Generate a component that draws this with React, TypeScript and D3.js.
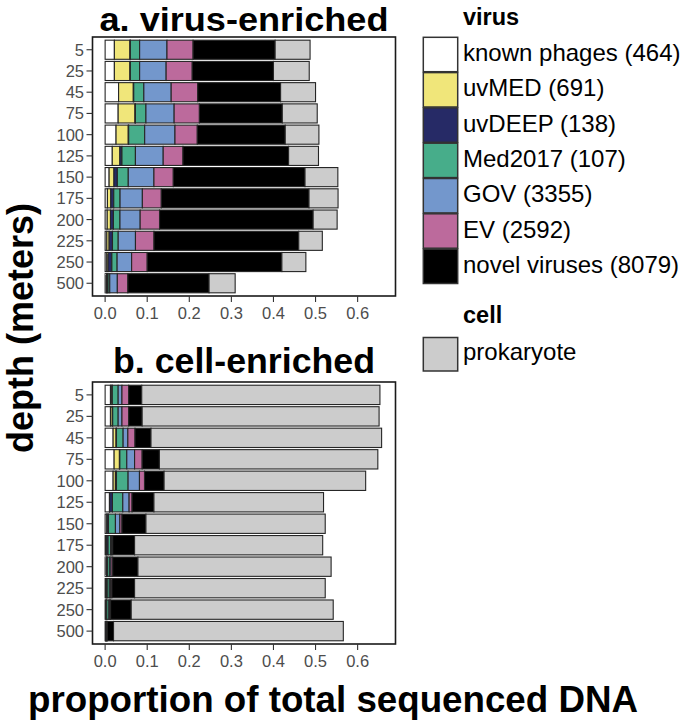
import React from "react";
import * as d3 from "d3";

const depths = ["5", "25", "45", "75", "100", "125", "150", "175", "200", "225", "250", "500"];
const groups = ["known", "uvMED", "uvDEEP", "Med2017", "GOV", "EV", "novel", "prokaryote"];
const groupColors = ["#FFFFFF", "#F0E67A", "#262A66", "#47AD8A", "#7397CC", "#BC6A9C", "#000000", "#CCCCCC"];
const virusLegendLabels = ["known phages (464)", "uvMED (691)", "uvDEEP (138)", "Med2017 (107)", "GOV (3355)", "EV (2592)", "novel viruses (8079)"];
const cellLegendLabels = ["prokaryote"];
const xTicks = [0, 0.1, 0.2, 0.3, 0.4, 0.5, 0.6];

// proportions per depth: [known, uvMED, uvDEEP, Med2017, GOV, EV, novel, prokaryote]
const virusEnriched = [
  [0.022, 0.037, 0.001, 0.022, 0.065, 0.062, 0.195, 0.083],
  [0.022, 0.037, 0.001, 0.022, 0.063, 0.062, 0.193, 0.085],
  [0.032, 0.035, 0.001, 0.024, 0.065, 0.063, 0.197, 0.083],
  [0.031, 0.040, 0.001, 0.025, 0.067, 0.060, 0.197, 0.083],
  [0.026, 0.029, 0.001, 0.038, 0.072, 0.053, 0.209, 0.080],
  [0.017, 0.018, 0.005, 0.032, 0.066, 0.047, 0.251, 0.071],
  [0.0095, 0.0115, 0.008, 0.026, 0.061, 0.046, 0.313, 0.078],
  [0.0055, 0.008, 0.007, 0.015, 0.053, 0.045, 0.351, 0.069],
  [0.005, 0.0077, 0.007, 0.0156, 0.048, 0.046, 0.365, 0.057],
  [0.004, 0.0055, 0.008, 0.0136, 0.041, 0.044, 0.344, 0.056],
  [0.004, 0.003, 0.009, 0.0125, 0.0345, 0.037, 0.32, 0.057],
  [0.003, 0.002, 0.002, 0.004, 0.018, 0.025, 0.193, 0.062],
];

const cellEnriched = [
  [0.0127, 0.0033, 0.001, 0.014, 0.009, 0.016, 0.031, 0.566],
  [0.0127, 0.0043, 0.001, 0.013, 0.009, 0.016, 0.032, 0.563],
  [0.019, 0.007, 0.001, 0.0158, 0.0112, 0.017, 0.038, 0.548],
  [0.0214, 0.0126, 0.001, 0.0165, 0.0185, 0.018, 0.041, 0.519],
  [0.019, 0.0055, 0.0025, 0.0276, 0.027, 0.012, 0.0465, 0.479],
  [0.0103, 0.0005, 0.0066, 0.0246, 0.015, 0.007, 0.052, 0.403],
  [0.004, 0.001, 0.003, 0.0165, 0.0105, 0.005, 0.057, 0.426],
  [0.002, 0.001, 0.004, 0.006, 0.002, 0.003, 0.052, 0.447],
  [0.003, 0.001, 0.002, 0.005, 0.003, 0.004, 0.060, 0.459],
  [0.002, 0.001, 0.002, 0.005, 0.003, 0.003, 0.054, 0.453],
  [0.002, 0.001, 0.001, 0.005, 0.002, 0.002, 0.049, 0.480],
  [0.001, 0.0005, 0.001, 0.001, 0.001, 0.0005, 0.015, 0.546],
];

const FONT = "'Liberation Sans', Arial, Helvetica, sans-serif";
const left = 92.5;
const right = 395.5;

const x = d3.scaleLinear().domain([-0.03, 0.69]).range([left, right]);

function Panel({ data, top, bottom, title, titleY, titleSize, titleLen }: { data: number[][]; top: number; bottom: number; title: string; titleY: number; titleSize: number; titleLen: number }) {
  const y = d3.scaleBand<string>().domain(depths).range([top, bottom]).paddingInner(0.1).paddingOuter(0.15);
  const keys = groups.map((_, i) => String(i));
  const rows = data.map((r, i) => {
    const o: any = { depth: depths[i] };
    r.forEach((v, j) => (o[String(j)] = v));
    return o;
  });
  const series = d3.stack<any>().keys(keys)(rows);
  return (
    <g>
      <text x={(left + right) / 2} y={titleY} textAnchor="middle" fontFamily={FONT} fontWeight="bold" fontSize={titleSize} fill="#000" textLength={titleLen} lengthAdjust="spacingAndGlyphs">
        {title}
      </text>
      {series.map((s, si) => (
        <g key={si}>
          {s.map((d, di) => (
            <rect
              key={di}
              x={x(d[0])}
              y={y(depths[di])!}
              width={Math.max(0, x(d[1]) - x(d[0]))}
              height={y.bandwidth()}
              fill={groupColors[si]}
              stroke="#262626"
              strokeWidth={1.1}
            />
          ))}
        </g>
      ))}
      <rect x={left} y={top} width={right - left} height={bottom - top} fill="none" stroke="#1a1a1a" strokeWidth={1.6} />
      {depths.map((dp) => {
        const cy = y(dp)! + y.bandwidth() / 2;
        return (
          <g key={dp}>
            <line x1={left - 6} x2={left} y1={cy} y2={cy} stroke="#333" strokeWidth={1.1} />
            <text x={left - 8.5} y={cy + 6} textAnchor="end" fontFamily={FONT} fontSize={16.5} fill="#4D4D4D">
              {dp}
            </text>
          </g>
        );
      })}
      {xTicks.map((t) => (
        <g key={t}>
          <line x1={x(t)} x2={x(t)} y1={bottom} y2={bottom + 6} stroke="#333" strokeWidth={1.1} />
          <text x={x(t)} y={bottom + 23} textAnchor="middle" fontFamily={FONT} fontSize={16.5} fill="#4D4D4D">
            {d3.format(".1f")(t)}
          </text>
        </g>
      ))}
    </g>
  );
}

export default function App() {
  const keyX = 423.3;
  const keySize = 34.4;
  const keyStep = 35.3;
  const virusTop = 37.3;
  return (
    <svg width={685} height={722} style={{ position: "absolute", left: 0, top: 0, background: "#fff" }}>
      <rect width={685} height={722} fill="#fff" />
      <Panel data={virusEnriched} top={37} bottom={296} title="a. virus-enriched" titleY={30.5} titleSize={33.5} titleLen={289} />
      <Panel data={cellEnriched} top={382} bottom={644} title="b. cell-enriched" titleY={372.5} titleSize={35} titleLen={262} />
      <text transform="translate(33,328) rotate(-90)" textAnchor="middle" fontFamily={FONT} fontWeight="bold" fontSize={36} fill="#000">
        depth (meters)
      </text>
      <text x={333} y={712} textAnchor="middle" fontFamily={FONT} fontWeight="bold" fontSize={36} fill="#000" textLength={610} lengthAdjust="spacingAndGlyphs">
        proportion of total sequenced DNA
      </text>
      <text x={463} y={25} fontFamily={FONT} fontWeight="bold" fontSize={23.5} fill="#000">
        virus
      </text>
      {virusLegendLabels.map((lab, i) => {
        const ky = virusTop + i * keyStep;
        return (
          <g key={lab}>
            <rect x={keyX} y={ky} width={keySize} height={keySize} fill={groupColors[i]} stroke="#333" strokeWidth={1.5} />
            <text x={463} y={ky + keySize / 2 + 6.5} fontFamily={FONT} fontSize={24} fill="#000">
              {lab}
            </text>
          </g>
        );
      })}
      <text x={463} y={323.3} fontFamily={FONT} fontWeight="bold" fontSize={23.5} fill="#000">
        cell
      </text>
      {cellLegendLabels.map((lab, i) => {
        const ky = 337.5 + i * keyStep;
        return (
          <g key={lab}>
            <rect x={keyX} y={ky} width={keySize} height={33.5} fill={groupColors[7]} stroke="#333" strokeWidth={1.5} />
            <text x={463} y={ky + 33.5 / 2 + 6} fontFamily={FONT} fontSize={24} fill="#000">
              {lab}
            </text>
          </g>
        );
      })}
    </svg>
  );
}
